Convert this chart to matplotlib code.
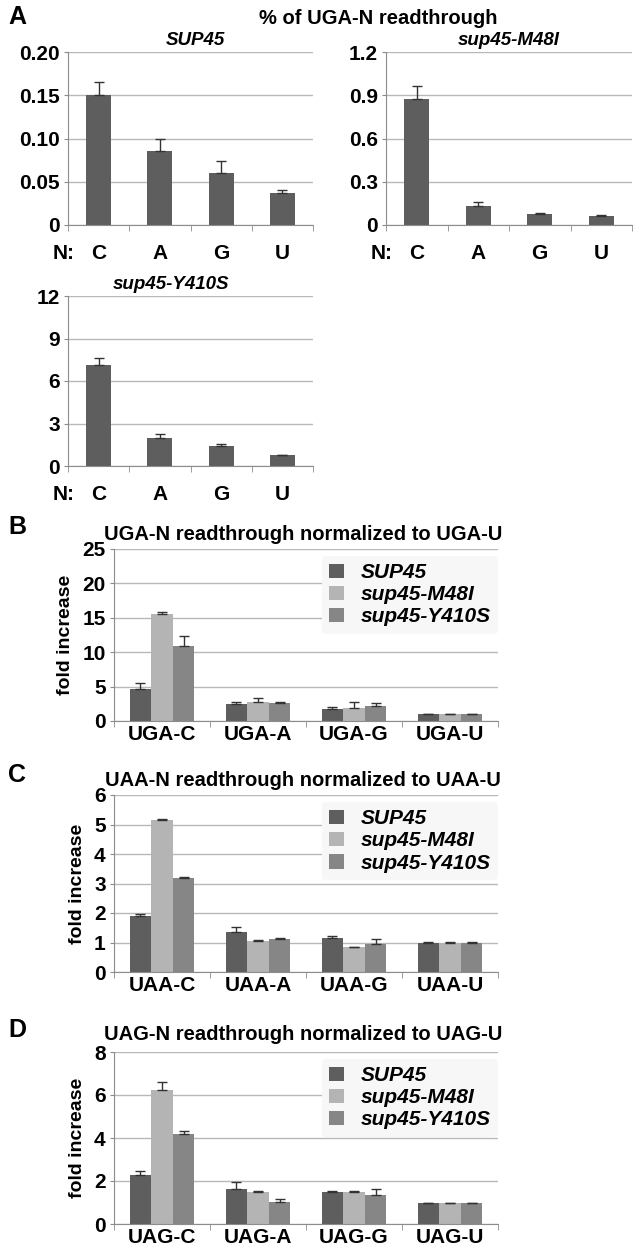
import numpy as np
import matplotlib.pyplot as plt
from matplotlib import transforms

plt.rcParams['font.family'] = ['Liberation Sans', 'DejaVu Sans']
plt.rcParams['font.weight'] = 'bold'

# panel A: % of UGA-N readthrough
nucleotides = ["C", "A", "G", "U"]
sup45_pct = [0.150, 0.085, 0.060, 0.037]
sup45_pct_err = [0.015, 0.015, 0.014, 0.003]
m48i_pct = [0.875, 0.135, 0.075, 0.060]
m48i_pct_err = [0.09, 0.025, 0.008, 0.007]
y410s_pct = [7.1, 1.95, 1.40, 0.75]
y410s_pct_err = [0.55, 0.30, 0.15, 0.06]

# panels B-D: fold increase
strains = ["SUP45", "sup45-M48I", "sup45-Y410S"]
uga_labels = ["UGA-C", "UGA-A", "UGA-G", "UGA-U"]
uga_vals = [[4.65, 2.45, 1.75, 1.0],
            [15.6, 2.7, 1.95, 1.0],
            [10.9, 2.6, 2.25, 1.0]]
uga_err = [[0.9, 0.35, 0.25, 0.03],
           [0.3, 0.7, 0.85, 0.03],
           [1.5, 0.2, 0.4, 0.03]]
uaa_labels = ["UAA-C", "UAA-A", "UAA-G", "UAA-U"]
uaa_vals = [[1.90, 1.36, 1.16, 1.0],
            [5.15, 1.05, 0.84, 1.0],
            [3.20, 1.12, 0.96, 1.0]]
uaa_err = [[0.07, 0.16, 0.06, 0.01],
           [0.04, 0.03, 0.02, 0.01],
           [0.02, 0.03, 0.15, 0.01]]
uag_labels = ["UAG-C", "UAG-A", "UAG-G", "UAG-U"]
uag_vals = [[2.27, 1.64, 1.47, 0.98],
            [6.22, 1.47, 1.47, 0.98],
            [4.20, 1.02, 1.33, 0.98]]
uag_err = [[0.2, 0.30, 0.08, 0.02],
           [0.4, 0.08, 0.08, 0.02],
           [0.13, 0.15, 0.31, 0.02]]

colors = ["#5e5e5e", "#b4b4b4", "#868686"]
grid_c = "#b8b8b8"
spine_c = "#8c8c8c"

W, H = 633, 1248
fig = plt.figure(figsize=(W / 100, H / 100), dpi=100)


def make_ax(left, right, top, bottom):
    return fig.add_axes([left / W, 1 - bottom / H, (right - left) / W, (bottom - top) / H])


def style_ax(ax, ymax, step, ticklabels, fs=15):
    ax.set_xlim(-0.5, 3.5)
    ax.set_ylim(0, ymax)
    yt = np.arange(0, ymax + step / 2, step)
    ax.set_yticks(yt)
    ax.set_yticklabels(ticklabels, fontsize=fs, fontweight='bold')
    ax.yaxis.grid(True, color=grid_c, linewidth=1)
    ax.set_axisbelow(True)
    for s in ["top", "right"]:
        ax.spines[s].set_visible(False)
    for s in ["left", "bottom"]:
        ax.spines[s].set_color(spine_c)
    ax.set_xticks([-0.5, 0.5, 1.5, 2.5, 3.5], minor=True)
    ax.tick_params(axis='x', which='major', length=0, pad=14)
    ax.tick_params(axis='x', which='minor', length=4, color=spine_c)
    ax.tick_params(axis='y', length=3, color=spine_c, pad=3)


def panel_a(ax, vals, errs, ymax, step, ticklabels, title, tx):
    x = np.arange(len(nucleotides))
    ax.bar(x, vals, width=0.41, color=colors[0], zorder=2)
    ax.errorbar(x, vals, yerr=[np.zeros(len(vals)), errs], fmt='none',
                ecolor='#333333', elinewidth=1, capsize=3.5, capthick=1, zorder=3)
    style_ax(ax, ymax, step, ticklabels)
    ax.set_xticks(x)
    ax.set_xticklabels(nucleotides, fontsize=15, fontweight='bold')
    trans = transforms.blended_transform_factory(ax.transData, ax.transAxes)
    ax.text(-0.57, -0.165, "N:", transform=trans, ha='center', va='center',
            fontsize=15, fontweight='bold')
    ax.text(tx, 1.065, title, transform=ax.transAxes, ha='center', va='center',
            fontsize=13.5, fontweight='bold', style='italic')


ax1 = make_ax(68, 313, 52, 225)
panel_a(ax1, sup45_pct, sup45_pct_err, 0.20, 0.05,
        ["0", "0.05", "0.10", "0.15", "0.20"], "SUP45", 0.52)
ax2 = make_ax(386, 632, 52, 225)
panel_a(ax2, m48i_pct, m48i_pct_err, 1.2, 0.3,
        ["0", "0.3", "0.6", "0.9", "1.2"], "sup45-M48I", 0.5)
ax3 = make_ax(68, 313, 296, 466)
panel_a(ax3, y410s_pct, y410s_pct_err, 12, 3,
        ["0", "3", "6", "9", "12"], "sup45-Y410S", 0.42)

fig.text(378 / W, 1 - 18 / H, "% of UGA-N readthrough", ha='center', va='center',
         fontsize=14.5, fontweight='bold')
fig.text(8 / W, 1 - 17 / H, "A", ha='left', va='center', fontsize=18, fontweight='bold')


def panel_fold(ax, labels, vals, errs, ymax, step, title, letter, letter_y, title_y):
    x = np.arange(len(labels))
    w = 0.222
    for i, name in enumerate(strains):
        xs = x + (i - 1) * (w + 0.005)
        ax.bar(xs, vals[i], width=w, color=colors[i], label=name, zorder=2)
        ax.errorbar(xs, vals[i], yerr=[np.zeros(len(labels)), errs[i]], fmt='none',
                    ecolor='#333333', elinewidth=1, capsize=3.5, capthick=1, zorder=3)
    style_ax(ax, ymax, step, [str(int(v)) for v in np.arange(0, ymax + step / 2, step)])
    ax.set_xticks(x)
    ax.set_xticklabels(labels, fontsize=15, fontweight='bold')
    ax.tick_params(axis='x', which='major', pad=3)
    ax.set_ylabel("fold increase", fontsize=14, fontweight='bold', labelpad=6)
    leg = ax.legend(loc='upper right', bbox_to_anchor=(1.0, 0.96), frameon=True,
                    prop={'size': 15, 'weight': 'bold', 'style': 'italic'},
                    handlelength=0.7, handleheight=0.7, handletextpad=0.8,
                    labelspacing=0.15, borderpad=0.35, borderaxespad=0)
    leg.get_frame().set_facecolor('#f7f7f7')
    leg.get_frame().set_edgecolor('none')
    leg.get_frame().set_alpha(1)
    fig.text(303 / W, 1 - title_y / H, title, ha='center', va='center',
             fontsize=14.5, fontweight='bold')
    fig.text(8 / W, 1 - letter_y / H, letter, ha='left', va='center',
             fontsize=18, fontweight='bold')


axB = make_ax(114, 498, 549, 721)
panel_fold(axB, uga_labels, uga_vals, uga_err, 25, 5,
           "UGA-N readthrough normalized to UGA-U", "B", 527, 534)
axC = make_ax(114, 498, 795, 972)
panel_fold(axC, uaa_labels, uaa_vals, uaa_err, 6, 1,
           "UAA-N readthrough normalized to UAA-U", "C", 775, 781)
axD = make_ax(114, 498, 1052, 1224)
panel_fold(axD, uag_labels, uag_vals, uag_err, 8, 2,
           "UAG-N readthrough normalized to UAG-U", "D", 1030, 1034)

fig.savefig("out.png", dpi=100, facecolor='white')
